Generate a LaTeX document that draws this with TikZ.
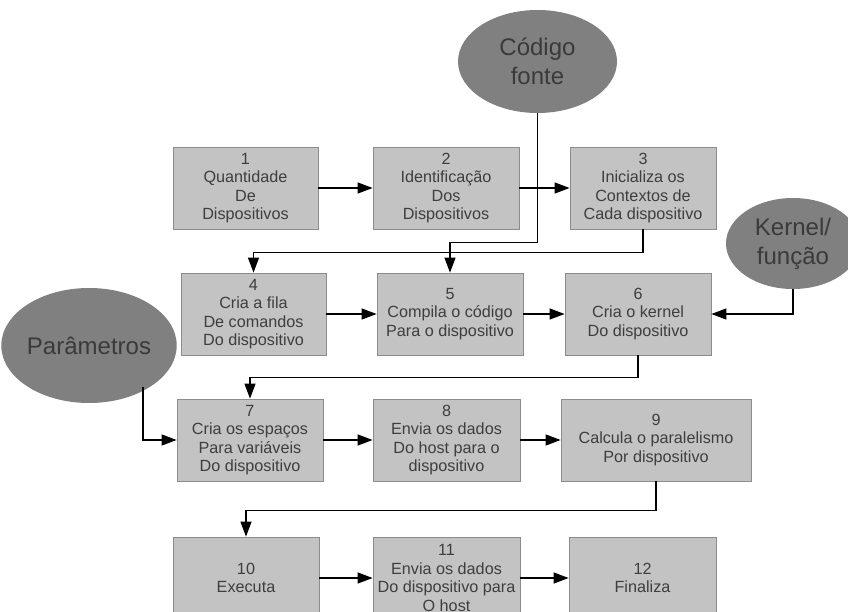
\documentclass[tikz,border=0pt]{standalone}
\usepackage{fontspec}
\setmainfont{Liberation Sans}
\usetikzlibrary{arrows.meta,shapes.geometric,calc}

\definecolor{boxfill}{RGB}{195,195,195}
\definecolor{boxline}{RGB}{140,140,140}
\definecolor{boxtext}{RGB}{62,62,62}
\definecolor{ovalfill}{RGB}{128,128,128}
\definecolor{ovaltext}{RGB}{58,58,58}

\tikzset{
  x=1pt, y=-1pt,
  stepbox/.style={rectangle, draw=boxline, line width=0.8pt, fill=boxfill,
    text=boxtext, align=center, inner sep=0pt,
    minimum height=82pt,
    font=\fontsize{16.2}{18.4}\selectfont},
  oval/.style={ellipse, fill=ovalfill, text=ovaltext, align=center,
    inner sep=0pt, font=\fontsize{24}{29}\selectfont},
  arr/.style={draw=black, line width=1.3pt,
    -{Triangle[length=15pt,width=11pt]}},
  link/.style={draw=black, line width=1.3pt}
}

\begin{document}
\begin{tikzpicture}
\clip (0,0) rectangle (848,612);
\fill[white] (0,0) rectangle (848,612);

% source ellipses
\node[oval, minimum width=159pt, minimum height=103pt] (cf) at (537.5,61.5) {Código\\fonte};
\node[oval, minimum width=134pt, minimum height=91pt] (kf) at (793,243.5) {Kernel/\\função};
\node[oval, minimum width=154pt, minimum height=115pt] (pa) at (89,345.5) {Parâmetros};

% row 1
\node[stepbox, minimum width=145pt] (b1) at (245.5,188) {1\\Quantidade\\De\\Dispositivos};
\node[stepbox, minimum width=146pt] (b2) at (446,188) {2\\Identificação\\Dos\\Dispositivos};
\node[stepbox, minimum width=146pt] (b3) at (643,188) {3\\Inicializa os\\Contextos de\\Cada dispositivo};

% row 2
\node[stepbox, minimum width=145pt] (b4) at (253.5,314) {4\\Cria a fila\\De comandos\\Do dispositivo};
\node[stepbox, minimum width=146pt] (b5) at (450,314) {5\\Compila o código\\Para o dispositivo};
\node[stepbox, minimum width=146pt] (b6) at (638,314) {6\\Cria o kernel\\Do dispositivo};

% row 3
\node[stepbox, minimum width=146pt] (b7) at (250,440) {7\\Cria os espaços\\Para variáveis\\Do dispositivo};
\node[stepbox, minimum width=147pt] (b8) at (446.5,440) {8\\Envia os dados\\Do host para o\\dispositivo};
\node[stepbox, minimum width=190pt] (b9) at (656,440) {9\\Calcula o paralelismo\\Por dispositivo};

% row 4
\node[stepbox, minimum width=146pt] (b10) at (246,578) {10\\Executa};
\node[stepbox, minimum width=147pt] (b11) at (446.5,578) {11\\Envia os dados\\Do dispositivo para\\O host};
\node[stepbox, minimum width=147pt] (b12) at (642.5,578) {12\\Finaliza};

% straight arrows within each row
\draw[arr] (b1.east) -- (b2.west);
\draw[arr] (b2.east) -- (b3.west);
\draw[arr] (b4.east) -- (b5.west);
\draw[arr] (b5.east) -- (b6.west);
\draw[arr] (b7.east) -- (b8.west);
\draw[arr] (b8.east) -- (b9.west);
\draw[arr] (b10.east) -- (b11.west);
\draw[arr] (b11.east) -- (b12.west);

% row-to-row returns
\draw[arr] (b3.south) -- ++(0,23) -| (b4.north);
\draw[arr] (b6.south) -- ++(0,22) -| (b7.north);
\draw[arr] (b9.south) -- ++(0,29) -| (b10.north);

% inputs from the ellipses
\draw[arr] (cf.south) -- ++(0,129) -| (b5.north);
\draw[arr] (kf.south) |- (b6.east);
\coordinate (paout) at ($(pa.center)+(54,41)$);
\draw[arr] (paout) |- (b7.west);
\end{tikzpicture}
\end{document}
